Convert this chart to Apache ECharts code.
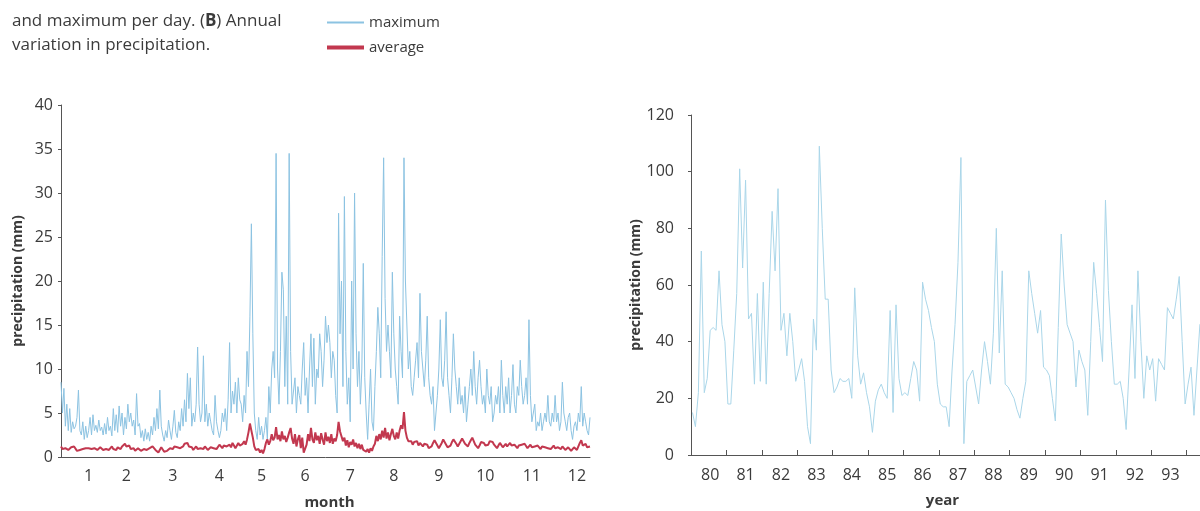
<!DOCTYPE html>
<html>
<head>
<meta charset="utf-8">
<script src="https://cdn.jsdelivr.net/npm/echarts/dist/echarts.min.js"></script>
<style>
  html, body { margin: 0; padding: 0; background: #fff; }
  #chart { width: 1200px; height: 511px; }
</style>
</head>
<body>
<div id="chart"></div>
<script>
// (A) daily maximum precipitation over the year, mm
var maxDaily = [
  8.5, 5, 7.8, 3.5, 6, 3, 5.5, 2.8, 4, 3.2,
  3.5, 4.5, 7.6, 3, 2.5, 4, 2, 3.5, 2.2, 3,
  4.5, 2.5, 4.8, 3, 3.6, 2.8, 4.2, 3, 3.4, 2.5,
  3.8, 2.6, 4.5, 3, 3.5, 2.4, 5.5, 3, 4.8, 2.8,
  5.8, 3.5, 5, 2.5, 4.5, 3.2, 6, 4, 5, 3.5,
  4.2, 2.5, 7.2, 3.5, 3.8, 2.2, 3, 1.8, 3.2, 2,
  2.8, 1.8, 3.5, 2.5, 4.5, 3, 5.5, 3.2, 7.6, 3.5,
  2.5, 1.8, 3, 2.2, 4.2, 3, 2, 3.5, 5.3, 2.8,
  2.2, 4, 3, 5.5, 3.5, 6.5, 4, 9.5, 5.5, 9,
  3.5, 5, 4, 6, 12.5, 6, 4, 5, 11.5, 4,
  6, 3.5, 5, 4, 3, 2.5, 7, 4, 3, 2.2,
  3, 5, 4, 5.5, 3, 6.5, 13, 5, 7.5, 6,
  8.5, 5, 9, 6.5, 6, 4, 7, 5, 12, 8,
  16, 26.5, 14, 5, 3, 2, 4.5, 2.5, 3.5, 2,
  3, 4.5, 2, 8, 5, 10, 12, 9, 34.5, 10,
  6, 12, 21, 19, 8, 16, 6, 34.5, 12, 6,
  6, 9, 5, 8, 7, 6, 10, 13, 7, 9,
  5, 10, 14, 8, 13.5, 6, 10, 9, 14, 12,
  8, 11, 16, 13, 15, 13, 9, 12, 11, 7,
  5, 27.7, 14, 20, 8, 29.6, 12, 6, 9, 4,
  20, 10, 30, 14, 8, 12, 6, 10, 22, 9,
  5, 2, 6, 10, 4, 3, 8, 12, 17, 14,
  9, 22.8, 34, 18, 12, 15, 12, 9, 21, 14,
  10, 8, 6, 16, 12, 9, 34, 20, 15, 10,
  12, 8, 7, 9, 11, 13, 9, 18.6, 12, 10,
  8, 11, 16, 9, 7, 6, 8, 3, 5, 7,
  10, 15.6, 9, 8, 11, 16.5, 9, 7, 5, 9,
  14, 10, 8, 6, 9, 6, 7, 5, 8, 4,
  6, 8, 10, 7, 12, 8, 6, 9, 11, 8,
  6, 7, 5, 10, 7, 6, 8, 4, 5, 7,
  6, 8, 5, 11, 7, 5, 8, 6, 9, 5,
  7, 10.5, 6, 5, 8, 7, 11, 8, 6, 7,
  9, 6, 15.6, 7, 4, 5, 6, 3, 4, 3.5,
  5, 3, 4, 5, 4, 7, 4, 3.5, 5, 4,
  7, 4, 5, 3, 4, 8.5, 5, 4, 3, 4.5,
  5, 3, 2, 3.5, 4, 3, 5, 4, 8, 3.5,
  5, 4, 3, 2.5, 4.5
];

// (A) daily average precipitation, mm
var avgDaily = [
  1.2, 0.9, 1.1, 1.0, 1.2, 0.8, 1.0, 1.1, 0.9, 1.2,
  1.0, 0.7, 0.6, 0.8, 1.0, 0.9, 1.1, 1.0, 0.9, 1.0,
  0.8, 0.9, 1.1, 1.0, 0.9, 0.8, 1.0, 1.1, 0.9, 0.8,
  1.0, 0.9, 1.1, 0.8, 1.0, 1.2, 0.9, 1.0, 0.8, 1.1,
  1.0, 0.9, 1.2, 1.3, 1.5, 1.2, 1.0, 1.3, 0.9, 0.8,
  1.0, 0.7, 0.8, 1.0, 0.9, 0.7, 0.8, 0.9, 0.7, 0.8,
  0.9, 1.0, 1.1, 1.2, 1.0, 0.8, 0.6, 0.5, 0.7, 1.1,
  0.9, 0.6, 0.5, 0.7, 0.9, 1.0, 0.8, 0.9, 1.2, 1.0,
  1.1, 1.3, 1.0, 0.9, 1.2, 1.5, 1.3, 1.6, 1.2, 1.0,
  1.1, 0.8, 1.0, 1.2, 0.9, 1.1, 1.0, 0.8, 0.9, 1.2,
  1.0, 0.8, 0.9, 1.1, 1.3, 1.0, 1.2, 0.9, 1.1, 1.4,
  1.2, 1.0, 1.3, 1.5, 1.2, 1.0, 1.4, 1.1, 1.6, 1.3,
  1.0, 1.2, 1.6, 1.3, 1.1, 1.5, 1.8, 1.4, 2.0, 2.8,
  3.8, 3.0, 2.2, 1.2, 0.8, 0.6, 0.9, 0.5, 0.8, 0.4,
  0.9, 1.6, 2.0, 1.4, 1.8, 2.6, 1.9, 2.2, 3.4, 2.0,
  2.5, 1.8, 2.9, 2.0, 2.4, 1.7, 2.2, 2.8, 3.3, 2.1,
  1.5, 2.6, 1.2, 2.0, 2.5, 1.0, 2.2, 0.5, 0.3, 1.4,
  2.6, 1.8, 3.3, 2.0, 1.6, 2.8, 1.9, 2.4, 1.5, 2.7,
  2.0, 1.4, 2.8, 1.8, 2.3, 1.6, 2.6, 1.5, 2.1, 1.8,
  2.5, 4.0, 2.9, 3.0, 1.8, 2.2, 1.3, 1.9, 1.1, 1.7,
  1.4, 2.0, 1.2, 1.6, 1.0, 1.5, 0.9, 1.4, 0.8, 0.6,
  0.6, 0.9, 0.5, 1.0, 0.7, 1.2, 1.5, 2.4, 1.8, 2.6,
  2.0, 3.0, 2.2, 3.3, 2.1, 2.8, 1.9, 2.6, 3.2, 2.4,
  2.0, 2.8, 2.1, 3.0, 3.6, 3.2, 5.1, 3.0, 2.2, 1.8,
  1.6, 1.8, 1.4, 1.7, 1.5, 1.8, 1.3, 1.6, 1.4, 1.2,
  1.5, 1.7, 1.4, 1.0, 0.8, 1.2, 1.6, 1.9, 1.7, 1.3,
  1.0, 1.2, 1.6, 2.0, 1.8, 1.4, 1.1, 1.0, 1.3, 1.7,
  2.0, 1.8, 1.5, 1.2, 1.4, 1.8, 2.1, 1.9, 1.5, 1.3,
  1.2, 1.6, 1.9, 2.2, 1.8, 1.4, 1.2, 1.0, 1.3, 1.7,
  1.9, 1.6, 1.3, 1.1, 1.4, 1.8, 2.0, 1.7, 1.4, 1.2,
  1.0, 1.3, 1.6, 1.4, 1.1, 1.3, 1.5, 1.2, 1.4, 1.6,
  1.3, 1.1, 1.4, 1.2, 1.0, 1.3, 1.1, 1.4, 1.2, 1.5,
  1.3, 1.0, 1.2, 1.4, 1.1, 0.9, 1.2, 1.0, 1.3, 1.1,
  0.9, 1.2, 1.4, 1.1, 1.3, 1.0, 1.2, 0.9, 1.1, 1.3,
  1.0, 0.8, 1.1, 1.0, 0.9, 1.2, 1.0, 0.8, 1.0, 1.1,
  0.9, 0.7, 0.9, 1.1, 1.0, 0.8, 1.2, 1.6, 1.9, 1.3,
  1.2, 1.5, 1.1, 1.3, 1.2
];

// day of year where each month label sits, and the labels
var monthLabelDays = [19, 45, 77, 109, 138, 168, 199, 229, 260, 292, 324, 355];
var monthLabels = ['1', '2', '3', '4', '5', '6', '7', '8', '9', '10', '11', '12'];

// (B) monthly precipitation 1980-1994, mm (one row per year)
var years = [80, 81, 82, 83, 84, 85, 86, 87, 88, 89, 90, 91, 92, 93, 94];
var monthly = [
  15, 10, 22, 72, 22, 27, 44, 45, 44, 65, 46, 40,
  18, 18, 37, 57, 101, 66, 97, 48, 50, 25, 57, 26,
  61, 25, 57, 86, 65, 94, 44, 50, 35, 50, 40, 26,
  30, 34, 26, 10, 4, 48, 37, 109, 80, 55, 55, 30,
  22, 24, 27, 26, 26, 27, 20, 59, 35, 25, 29, 22,
  17, 8, 19, 23, 25, 22, 20, 51, 15, 53, 27, 21,
  22, 21, 27, 33, 30, 19, 61, 55, 51, 45, 40, 25,
  18, 17, 17, 10, 30, 46, 68, 105, 4, 26, 28, 30,
  24, 18, 30, 40, 33, 25, 43, 80, 36, 65, 25, 24,
  22, 20, 16, 13, 20, 26, 65, 57, 50, 43, 51, 31,
  30, 28, 20, 12, 45, 78, 60, 46, 43, 40, 24, 37,
  33, 30, 14, 40, 68, 57, 45, 33, 90, 58, 40, 25,
  25, 26, 20, 9, 30, 53, 27, 65, 40, 20, 35, 30,
  34, 19, 34, 32, 30, 52, 50, 48, 55, 63, 40, 18,
  25, 31, 14, 30, 46, 48
];
var shownYears = [80, 81, 82, 83, 84, 85, 86, 87, 88, 89, 90, 91, 92, 93];

var axisColor = '#555';
var textColor = '#3b3b3b';
var fontFamily = '"Open Sans", "Noto Sans", sans-serif';
var maxColor = '#8cc3e2';
var avgColor = '#c2384f';
var annualColor = '#aad6e9';

var dayCats = maxDaily.map(function (v, i) { return String(i + 1); });
var monthCats = [];
years.forEach(function (y) {
  for (var m = 1; m <= 12; m++) monthCats.push(y + '-' + m);
});

var myChart = echarts.init(document.getElementById('chart'));

var option = {
  animation: false,
  backgroundColor: '#fff',
  textStyle: { fontFamily: fontFamily },
  title: {
    text: 'and maximum per day. ({b|B}) Annual\nvariation in precipitation.',
    left: 7,
    top: 4,
    textStyle: {
      fontSize: 17, fontWeight: 'normal', color: textColor, lineHeight: 24,
      fontFamily: fontFamily,
      rich: { b: { fontSize: 17, fontWeight: 'bold', color: textColor, lineHeight: 24, fontFamily: fontFamily } }
    }
  },
  legend: {
    orient: 'vertical',
    left: 322,
    top: 10,
    itemWidth: 37,
    itemHeight: 14,
    itemGap: 10,
    textStyle: { fontSize: 15, color: textColor, fontFamily: fontFamily },
    data: [
      { name: 'maximum', icon: 'path://M0,0L37,0L37,2L0,2Z' },
      { name: 'average', icon: 'path://M0,0L37,0L37,4L0,4Z' }
    ]
  },
  grid: [
    { left: 61, top: 105, width: 529, height: 352, outerBoundsMode: 'none' },
    { left: 691, top: 115, width: 531, height: 340, outerBoundsMode: 'none' }
  ],
  xAxis: [
    {
      type: 'category',
      gridIndex: 0,
      data: dayCats,
      boundaryGap: false,
      axisLine: { lineStyle: { color: axisColor, width: 1 } },
      axisTick: { show: false },
      axisLabel: {
        color: textColor,
        fontSize: 16,
        margin: 11,
        interval: function (index) { return monthLabelDays.indexOf(index) >= 0; },
        formatter: function (value, index) {
          var k = monthLabelDays.indexOf(index);
          return k >= 0 ? monthLabels[k] : '';
        }
      },
      splitLine: { show: false },
      name: 'month',
      nameLocation: 'middle',
      nameGap: 38,
      nameTextStyle: { fontWeight: 'bold', fontSize: 15, color: textColor, padding: [0, 0, 0, 8] }
    },
    {
      type: 'category',
      gridIndex: 1,
      data: monthCats,
      boundaryGap: true,
      axisLine: { lineStyle: { color: axisColor, width: 1 } },
      axisTick: {
        show: true,
        inside: true,
        length: 5,
        lineStyle: { color: axisColor },
        interval: function (index) { return index % 12 === 0; }
      },
      axisLabel: {
        color: textColor,
        fontSize: 16,
        margin: 12,
        interval: function (index) { return index % 12 === 6; },
        formatter: function (value, index) {
          var y = years[Math.floor(index / 12)];
          return shownYears.indexOf(y) >= 0 ? String(y) : '';
        }
      },
      splitLine: { show: false },
      name: 'year',
      nameLocation: 'middle',
      nameGap: 38,
      nameTextStyle: { fontWeight: 'bold', fontSize: 15, color: textColor, padding: [0, 28, 0, 0] }
    }
  ],
  yAxis: [
    {
      type: 'value',
      gridIndex: 0,
      min: 0,
      max: 40,
      interval: 5,
      axisLine: { show: true, lineStyle: { color: axisColor, width: 1 } },
      axisTick: { show: true, length: 3, lineStyle: { color: axisColor } },
      axisLabel: { color: textColor, fontSize: 16, margin: 8 },
      splitLine: { show: false },
      name: 'precipitation (mm)',
      nameLocation: 'middle',
      nameGap: 36,
      nameTextStyle: { fontWeight: 'bold', fontSize: 14, color: textColor }
    },
    {
      type: 'value',
      gridIndex: 1,
      min: 0,
      max: 120,
      interval: 20,
      axisLine: { show: true, lineStyle: { color: axisColor, width: 1 } },
      axisTick: { show: true, length: 3, lineStyle: { color: axisColor } },
      axisLabel: { color: textColor, fontSize: 16, margin: 17 },
      splitLine: { show: false },
      name: 'precipitation (mm)',
      nameLocation: 'middle',
      nameGap: 48,
      nameTextStyle: { fontWeight: 'bold', fontSize: 14, color: textColor }
    }
  ],
  series: [
    {
      name: 'maximum',
      type: 'line',
      xAxisIndex: 0,
      yAxisIndex: 0,
      data: maxDaily,
      symbol: 'none',
      lineStyle: { color: maxColor, width: 1 },
      itemStyle: { color: maxColor },
      z: 2
    },
    {
      name: 'average',
      type: 'line',
      xAxisIndex: 0,
      yAxisIndex: 0,
      data: avgDaily,
      symbol: 'none',
      lineStyle: { color: avgColor, width: 2 },
      itemStyle: { color: avgColor },
      z: 3
    },
    {
      name: 'annual',
      type: 'line',
      xAxisIndex: 1,
      yAxisIndex: 1,
      data: monthly,
      symbol: 'none',
      lineStyle: { color: annualColor, width: 1 },
      itemStyle: { color: annualColor },
      z: 2
    }
  ]
};

myChart.setOption(option);
</script>
</body>
</html>
